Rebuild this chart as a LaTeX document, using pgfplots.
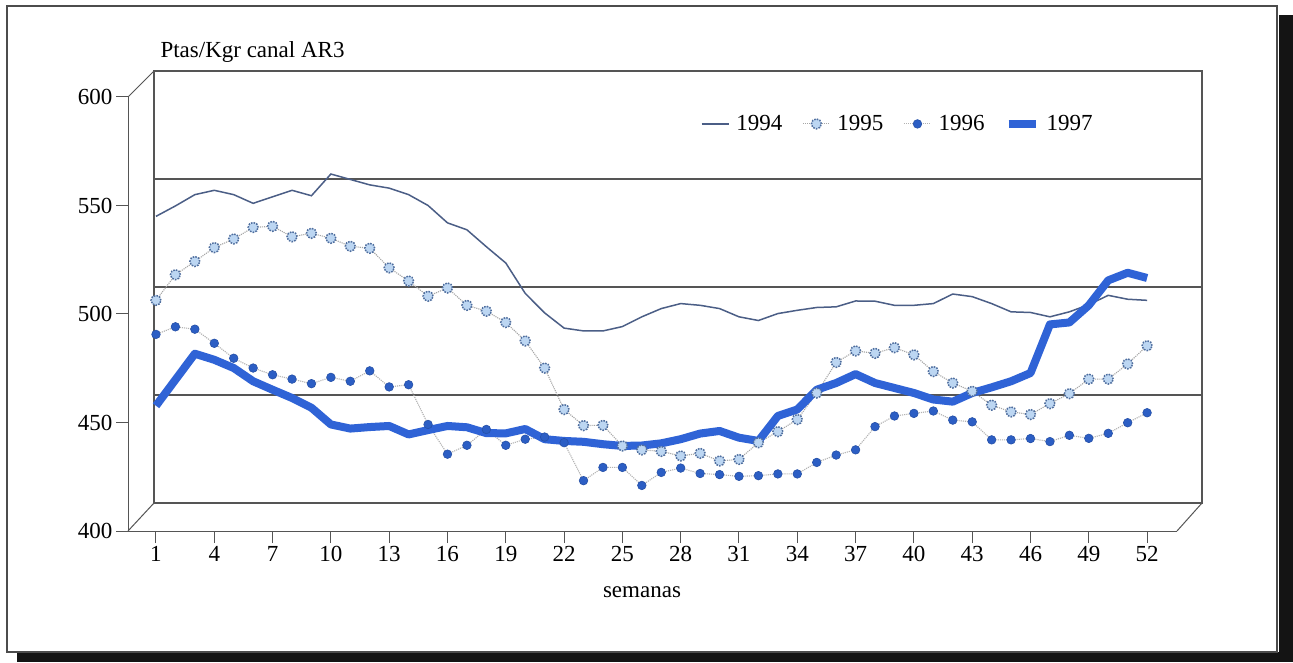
\documentclass[border=0pt]{standalone}
\usepackage{fontspec}
\setmainfont{Liberation Serif}
\usepackage{pgfplots}
\pgfplotsset{compat=1.18}
\definecolor{c94}{HTML}{4B5E86}
\definecolor{c95}{HTML}{4F6E9E}
\definecolor{c95f}{HTML}{BCD6F2}
\definecolor{c96}{HTML}{2C5EC4}
\definecolor{c97}{HTML}{2F63D6}
\definecolor{wall}{HTML}{555555}
\begin{document}
\begin{tikzpicture}[x=1pt,y=1pt]
% page and frame
\fill[white] (0,0) rectangle (1293,662);
\fill[black!92] (17,0) rectangle (1293,10);
\fill[black!92] (1279,0) rectangle (1293,647);
\draw[fill=white,draw=black!70,line width=1.5pt] (7,10) rectangle (1277,656);
% back wall and floor
\draw[wall,line width=1.2pt] (154,159) rectangle (1202,591);
\foreach \yy in {483,375,267} \draw[wall,line width=1.2pt] (154,\yy) -- (1202,\yy);
\draw[wall,line width=1pt] (128,565) -- (154,591);
\draw[wall,line width=1pt] (128,131) -- (154,159);
\draw[wall,line width=1pt] (1177,131) -- (1202,159);
\node[anchor=base west,font=\fontsize{23}{27}\selectfont] at (157,604) {Ptas/Kgr canal AR3};
\node[font=\fontsize{23}{27}\selectfont] at (642,70) {semanas};
\begin{axis}[
  at={(128pt,131pt)}, anchor=south west,
  scale only axis, width=1049pt, height=434pt,
  xmin=-0.44, xmax=53.54, ymin=400, ymax=600,
  axis lines*=left,
  axis line style={draw=wall,line width=1pt,-},
  xtick={1,4,...,52}, ytick={400,450,...,600},
  tick align=outside,
  major tick length=12pt,
  tick style={draw=wall,line width=1pt},
  tick label style={font=\fontsize{23}{27}\selectfont},
  /pgf/number format/assume math mode=true,
  clip=false,
  legend style={draw=none,fill=none,at={(0.543,0.938)},anchor=west,
    legend columns=4,font=\fontsize{23}{27}\selectfont,
    /tikz/every even column/.append style={column sep=18pt},
    /tikz/every odd column/.append style={column sep=5pt}},
  legend image code/.code={\draw[mark repeat=2,mark phase=2,#1] plot coordinates {(0pt,0pt) (13.5pt,0pt) (27pt,0pt)};},
]
\addplot[c94,line width=1.5pt] coordinates {
(1,545) (2,549.8) (3,555) (4,557) (5,555) (6,551) (7,554) (8,557) (9,554.5) (10,564.5)
(11,562) (12,559.5) (13,558) (14,555) (15,550) (16,542) (17,538.8) (18,531) (19,523.5) (20,509.5)
(21,500.5) (22,493.5) (23,492.2) (24,492.2) (25,494.2) (26,498.7) (27,502.5) (28,504.8) (29,504) (30,502.5)
(31,498.7) (32,497) (33,500.2) (34,501.7) (35,503) (36,503.3) (37,506) (38,505.9) (39,504) (40,504)
(41,504.8) (42,509.2) (43,508) (44,504.8) (45,501) (46,500.7) (47,498.7) (48,501) (49,504.3) (50,508.6)
(51,506.8) (52,506.3)};
\addlegendentry{1994}
\addplot[black!35,line width=1.1pt,densely dotted,mark=*,mark size=5pt,
  mark options={solid,fill=c95f,draw=c95,line width=1.5pt,dash pattern=on 1.6pt off 1.2pt}] coordinates {
(1,506.3) (2,518.1) (3,524.2) (4,530.6) (5,534.6) (6,539.9) (7,540.4) (8,535.6) (9,537.2) (10,534.9)
(11,531.2) (12,530.3) (13,521.3) (14,515.2) (15,508.2) (16,512) (17,504) (18,501.3) (19,496.1) (20,487.6)
(21,475.1) (22,456) (23,448.6) (24,448.7) (25,439.2) (26,437.4) (27,436.7) (28,434.6) (29,435.8) (30,432.3)
(31,433) (32,440.7) (33,445.8) (34,451.4) (35,463.6) (36,477.7) (37,483) (38,481.9) (39,484.5) (40,481.2)
(41,473.5) (42,468.2) (43,464.4) (44,458) (45,454.9) (46,453.7) (47,458.7) (48,463.3) (49,470) (50,470)
(51,477) (52,485.4)};
\addlegendentry{1995}
\addplot[black!30,line width=1.1pt,densely dotted,mark=*,mark size=4.3pt,
  mark options={solid,fill=c96,draw=c96!85!black,line width=0.6pt}] coordinates {
(1,490.6) (2,494.1) (3,493) (4,486.5) (5,479.6) (6,475.1) (7,472) (8,470) (9,467.9) (10,470.8)
(11,469) (12,473.8) (13,466.4) (14,467.4) (15,449.1) (16,435.4) (17,439.5) (18,446.8) (19,439.5) (20,442.3)
(21,443.3) (22,440.7) (23,423.2) (24,429.3) (25,429.3) (26,421) (27,427) (28,429) (29,426.5) (30,426)
(31,425.2) (32,425.5) (33,426.3) (34,426.3) (35,431.6) (36,435) (37,437.4) (38,448.1) (39,453) (40,454.2)
(41,455.3) (42,451.1) (43,450.3) (44,442) (45,442) (46,442.6) (47,441.2) (48,444.1) (49,442.7) (50,445)
(51,449.9) (52,454.5)};
\addlegendentry{1996}
\addplot[c97,line width=8pt,line join=round] coordinates {
(1,457.7) (2,469.7) (3,481.7) (4,478.9) (5,475.1) (6,469) (7,465.1) (8,461.3) (9,456.8) (10,449.1)
(11,447.2) (12,447.9) (13,448.4) (14,444.5) (15,446.5) (16,448.4) (17,447.8) (18,445.1) (19,445) (20,447)
(21,442.3) (22,441.5) (23,441.1) (24,440) (25,439.2) (26,439.4) (27,440.4) (28,442.3) (29,444.9) (30,446.1)
(31,443) (32,441.5) (33,453) (34,456) (35,465.1) (36,468.2) (37,472.3) (38,468.2) (39,465.9) (40,463.6)
(41,460.6) (42,459.6) (43,463.6) (44,466.2) (45,469) (46,472.8) (47,495.2) (48,496.1) (49,504) (50,515.5)
(51,519) (52,516.6)};
\addlegendentry{1997}
\end{axis}
\end{tikzpicture}
\end{document}
